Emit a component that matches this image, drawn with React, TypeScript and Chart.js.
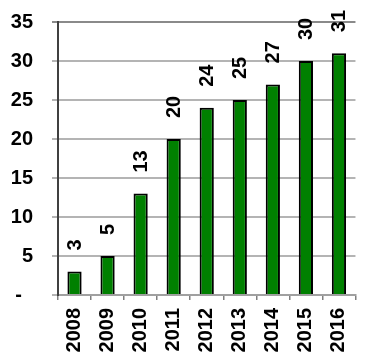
import React, { useEffect, useRef } from "react";
import { Chart, registerables } from "chart.js";

Chart.register(...registerables);

const years: string[] = ["2008", "2009", "2010", "2011", "2012", "2013", "2014", "2015", "2016"];
const values: number[] = [3, 5, 13, 20, 24, 25, 27, 30, 31];
const yMin = 0;
const yMax = 35;
const yStep = 5;

const FONT_FAMILY = '"Liberation Sans", Arial, sans-serif';
const FONT_SIZE = 20;

const valueLabelPlugin = {
  id: "valueLabels",
  afterDatasetsDraw(chart: any) {
    const ctx = chart.ctx;
    const meta = chart.getDatasetMeta(0);
    meta.data.forEach((bar: any, i: number) => {
      ctx.save();
      ctx.translate(bar.x + 1, bar.y - 21);
      ctx.rotate(-Math.PI / 2);
      ctx.textAlign = "left";
      ctx.textBaseline = "middle";
      ctx.font = `bold ${FONT_SIZE}px ${FONT_FAMILY}`;
      ctx.fillStyle = "#000";
      ctx.fillText(String(values[i]), 0, 0);
      ctx.restore();
    });
  },
};

export default function App() {
  const ref = useRef<HTMLCanvasElement | null>(null);

  useEffect(() => {
    if (!ref.current) return;
    const chart = new Chart(ref.current, {
      type: "bar",
      data: {
        labels: years,
        datasets: [
          {
            data: values,
            backgroundColor: "#008000",
            borderColor: "#000000",
            borderWidth: 2,
            barPercentage: 0.43,
            categoryPercentage: 1,
          },
        ],
      },
      options: {
        responsive: false,
        animation: false,
        layout: { padding: { top: 22, right: 1, left: 0, bottom: 0 } },
        plugins: {
          legend: { display: false },
          tooltip: { enabled: false },
        },
        scales: {
          x: {
            grid: {
              display: true,
              drawOnChartArea: false,
              drawTicks: true,
              tickLength: 5,
              lineWidth: 1.5,
              color: "#808080",
              offset: true,
            },
            border: { display: true, color: "#a0a0a0", width: 2 },
            ticks: {
              minRotation: 90,
              maxRotation: 90,
              padding: 8,
              color: "#000",
              font: { family: FONT_FAMILY, size: FONT_SIZE, weight: "bold" },
            },
            afterFit(scale: any) {
              scale.height = 57;
            },
          },
          y: {
            min: yMin,
            max: yMax,
            grid: {
              color: (c: any) => (c.tick && c.tick.value === yMax ? "#8a8a8a" : "#b4b4b4"),
              lineWidth: 2,
              tickLength: 6,
              drawTicks: true,
            },
            border: { display: true, color: "#404040", width: 2 },
            ticks: {
              stepSize: yStep,
              padding: 19,
              color: "#000",
              font: { family: FONT_FAMILY, size: FONT_SIZE, weight: "bold" },
              callback: (v: any) => (Number(v) === 0 ? "-  " : String(v)),
            },
            afterFit(scale: any) {
              scale.width = 58;
              scale.paddingTop = 0;
              scale.paddingBottom = 0;
            },
          },
        },
      },
      plugins: [valueLabelPlugin],
    });
    return () => chart.destroy();
  }, []);

  return (
    <div style={{ position: "fixed", left: 0, top: 0, width: 371, height: 352, overflow: "hidden", background: "#fff" }}>
      <canvas ref={ref} width={371} height={352} style={{ display: "block" }} />
    </div>
  );
}
